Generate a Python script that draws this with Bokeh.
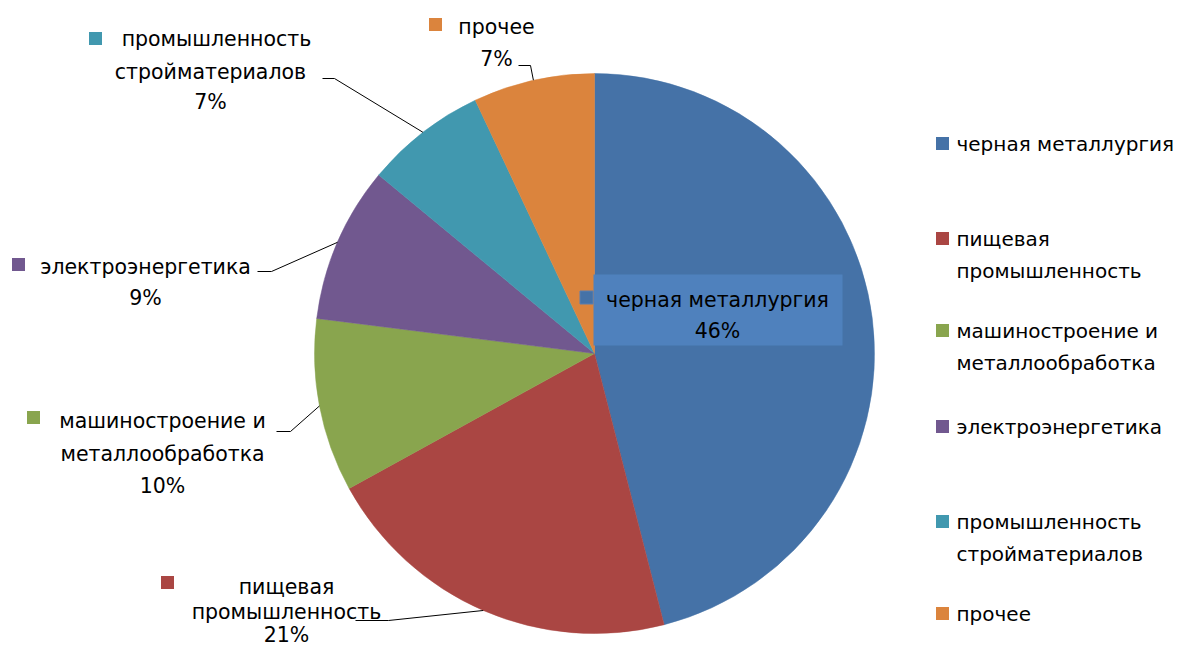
import math
from bokeh.plotting import figure
from bokeh.models import Range1d
from bokeh.core.properties import value
from bokeh.embed import file_html
from bokeh.resources import INLINE

# ---- data ----
categories = ["черная металлургия", "пищевая промышленность",
              "машиностроение и металлообработка", "электроэнергетика",
              "промышленность стройматериалов", "прочее"]
shares = [46, 21, 10, 9, 7, 7]
pct_labels = ["46%", "21%", "10%", "9%", "7%", "7%"]
label_lines = [["черная металлургия"], ["пищевая", "промышленность"],
               ["машиностроение и", "металлообработка"], ["электроэнергетика"],
               ["промышленность", "стройматериалов"], ["прочее"]]
colors = ["#4572A7", "#AA4643", "#89A54E", "#71588F", "#4198AF", "#DB843D"]

# ---- layout (picture pixel coordinates) ----
W, H = 1179, 647
FONT = value("DejaVu Sans")
FS = "20.5px"
CX, CY, R = 594, 353, 280

def Y(yi):
    return H - yi

p = figure(width=W, height=H, output_backend="svg", toolbar_location=None,
           x_range=Range1d(0, W), y_range=Range1d(0, H),
           min_border=0, outline_line_color=None)
p.axis.visible = False
p.grid.visible = False
p.background_fill_color = "white"

total = sum(shares)
cum = 0
starts, ends, mids = [], [], []
for s in shares:
    a0 = math.pi / 2 - 2 * math.pi * cum / total
    cum += s
    a1 = math.pi / 2 - 2 * math.pi * cum / total
    starts.append(a0)
    ends.append(a1)
    mids.append((a0 + a1) / 2)

p.wedge(x=[CX] * len(shares), y=[Y(CY)] * len(shares), radius=R,
        start_angle=starts, end_angle=ends, direction="clock",
        fill_color=colors, line_color=colors, line_width=0.5)

# data label layouts: (square x, square y, [line centers x], [line ys incl. percent])
lab_layout = [
    (586, 297, [717], [299, 330]),
    (167, 582, [286, 286], [586, 611, 634]),
    (33, 417, [162, 162], [420, 453, 485]),
    (18, 264, [145], [266, 297]),
    (95, 38, [216, 210], [38, 71, 101]),
    (435, 24, [496], [26, 58]),
]
# leader elbows: (start x, elbow x, y) ; None for inside label
leaders = [None, (355, 388, 620), (276, 290, 431), (257, 271, 271),
           (322, 334, 78), (518, 530, 65)]

# box behind the inside label
p.rect(x=[717.5], y=[Y(309.5)], width=249, height=71,
       fill_color="#4F81BD", line_color=None)

for i, cat in enumerate(categories):
    sqx, sqy, cxs, ys = lab_layout[i]
    p.rect(x=[sqx], y=[Y(sqy)], width=13, height=13,
           fill_color=colors[i], line_color="#5a7fb0" if i == 0 else None)
    lines = label_lines[i] + [pct_labels[i]]
    for j, t in enumerate(lines):
        p.text(x=[cxs[min(j, len(cxs) - 1)]], y=[Y(ys[j])], text=[t],
               text_font=FONT, text_font_size=FS, text_align="center",
               text_baseline="middle", text_color="#000000")
    ld = leaders[i]
    if ld is not None:
        ex = CX + R * math.cos(mids[i])
        ey = Y(CY) + R * math.sin(mids[i])
        p.line(x=[ld[0], ld[1], ex], y=[Y(ld[2]), Y(ld[2]), ey],
               line_color="#000000", line_width=1)

# legend on the right
leg_first_y = [143, 238, 330, 426, 521, 613]
LH = 32
for i, cat in enumerate(categories):
    yy = leg_first_y[i]
    p.rect(x=[942], y=[Y(yy)], width=13, height=13, fill_color=colors[i],
           line_color=None)
    for j, t in enumerate(label_lines[i]):
        p.text(x=[956], y=[Y(yy + j * LH)], text=[t], text_font=FONT,
               text_font_size="20px", text_align="left", text_baseline="middle",
               text_color="#000000")

open("out.html", "w").write(file_html(p, INLINE))
